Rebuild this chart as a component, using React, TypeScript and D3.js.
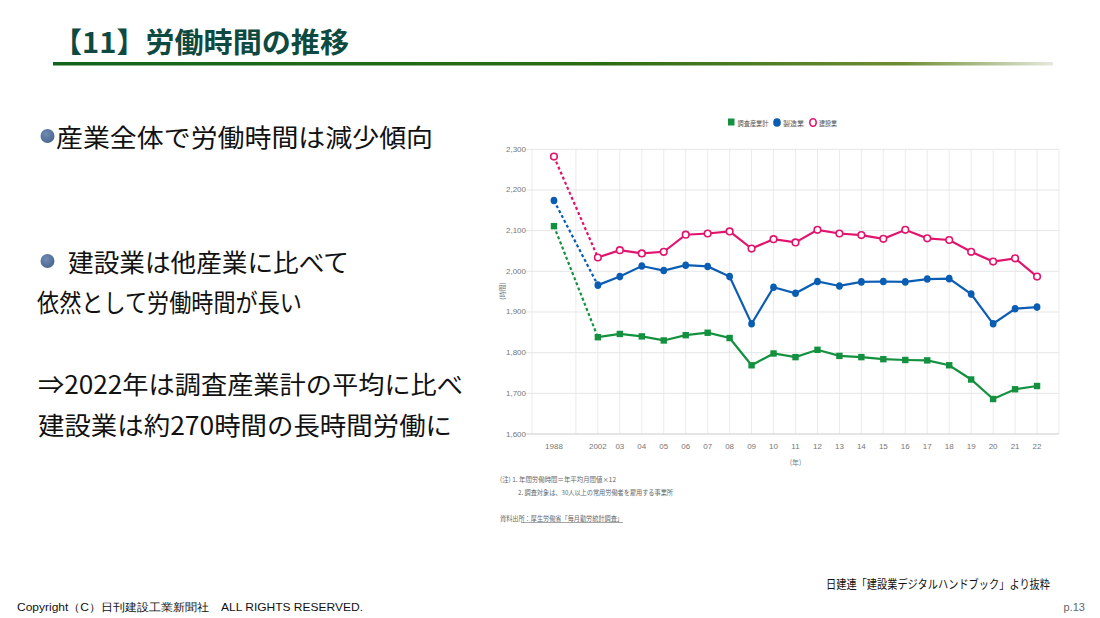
import React from "react";
import * as d3 from "d3";

const categories = ["1988", "", "2002", "03", "04", "05", "06", "07", "08", "09", "10", "11", "12", "13", "14", "15", "16", "17", "18", "19", "20", "21", "22"];
const allIndustry = [2111, null, 1838, 1846, 1840, 1830, 1843, 1849, 1836, 1769, 1798, 1789, 1807, 1792, 1789, 1784, 1782, 1781, 1769, 1734, 1686, 1710, 1718];
const manufacturing = [2174, null, 1966, 1987, 2013, 2002, 2015, 2012, 1987, 1871, 1961, 1946, 1975, 1964, 1974, 1975, 1974, 1981, 1982, 1944, 1871, 1908, 1912];
const construction = [2282, null, 2034, 2052, 2044, 2048, 2090, 2093, 2098, 2056, 2079, 2071, 2102, 2093, 2089, 2080, 2102, 2081, 2077, 2048, 2024, 2032, 1987];
const yTicks = [1600, 1700, 1800, 1900, 2000, 2100, 2200, 2300];
const seriesNames = ["調査産業計", "製造業", "建設業"];

const C_GREEN = "#14913f";
const C_BLUE = "#0a5db3";
const C_PINK = "#e2136c";

const JP = "'Noto Sans CJK JP', 'Noto Sans', sans-serif";
const NARROW = "'Liberation Sans Narrow', 'Liberation Sans', Arial, sans-serif";

export default function App() {
  const x = d3.scalePoint<string>().domain(categories).range([532, 1059]).padding(1);
  const y = d3.scaleLinear().domain([1600, 2300]).range([434, 149.3]);
  const fmt = d3.format(",");

  const solid = (vals: (number | null)[]) => {
    const pts = categories.map((c, i) => ({ c, v: vals[i] })).filter((d, i) => i >= 2 && d.v != null);
    return d3.line<{ c: string; v: number | null }>().x((d) => x(d.c) as number).y((d) => y(d.v as number))(pts) || "";
  };
  const dashed = (vals: (number | null)[]) => {
    const pts = [{ c: categories[0], v: vals[0] }, { c: categories[2], v: vals[2] }];
    return d3.line<{ c: string; v: number | null }>().x((d) => x(d.c) as number).y((d) => y(d.v as number))(pts) || "";
  };

  const series = [
    { vals: allIndustry, color: C_GREEN, kind: "square" },
    { vals: manufacturing, color: C_BLUE, kind: "dot" },
    { vals: construction, color: C_PINK, kind: "ring" },
  ];

  const marker = (kind: string, color: string, cx: number, cy: number, key: any) => {
    if (kind === "square") return <rect key={key} x={cx - 3.2} y={cy - 3.2} width={6.4} height={6.4} fill={color} />;
    if (kind === "dot") return <ellipse key={key} cx={cx} cy={cy} rx={3.4} ry={3.8} fill={color} />;
    return <circle key={key} cx={cx} cy={cy} r={3.3} fill="#fff" stroke={color} strokeWidth={1.6} />;
  };

  const vLines = [532, ...categories.slice(1).map((c) => x(c) as number), 1059];

  return (
    <div style={{ position: "absolute", left: 0, top: 0 }}>
      <svg width={1100} height={618} style={{ display: "block", background: "#fff" }}>
        <defs>
          <linearGradient id="ul" x1="0" x2="1" y1="0" y2="0">
            <stop offset="0" stopColor="#12641c" />
            <stop offset="0.55" stopColor="#2b6c12" />
            <stop offset="0.85" stopColor="#6f8d33" />
            <stop offset="1" stopColor="#e6e9dc" />
          </linearGradient>
          <radialGradient id="bul" cx="0.4" cy="0.35" r="0.7">
            <stop offset="0" stopColor="#6f8bb3" />
            <stop offset="1" stopColor="#4a6590" />
          </radialGradient>
        </defs>

        {/* Title */}
        <text x={53} y={41} fontFamily={JP} fontWeight={700} fontSize={28} fill="#0e4a40" dominantBaseline="central" textLength={296} lengthAdjust="spacingAndGlyphs">
          【11】労働時間の推移
        </text>
        <rect x={53} y={62} width={1000} height={3.5} fill="url(#ul)" />

        {/* Body text */}
        <circle cx={47.5} cy={136} r={7} fill="url(#bul)" />
        <text x={56} y={136} fontFamily={JP} fontSize={25} fill="#111" dominantBaseline="central" textLength={377} lengthAdjust="spacingAndGlyphs">
          産業全体で労働時間は減少傾向
        </text>
        <circle cx={47.5} cy={261} r={7} fill="url(#bul)" />
        <text x={68} y={261} fontFamily={JP} fontSize={25} fill="#111" dominantBaseline="central" textLength={281} lengthAdjust="spacingAndGlyphs">
          建設業は他産業に比べて
        </text>
        <text x={37} y={301} fontFamily={JP} fontSize={25} fill="#111" dominantBaseline="central" textLength={265} lengthAdjust="spacingAndGlyphs">
          依然として労働時間が長い
        </text>
        <text x={38} y={383} fontFamily={JP} fontSize={25} fill="#111" dominantBaseline="central" textLength={425} lengthAdjust="spacingAndGlyphs">
          ⇒2022年は調査産業計の平均に比べ
        </text>
        <text x={38} y={424} fontFamily={JP} fontSize={25} fill="#111" dominantBaseline="central" textLength={414} lengthAdjust="spacingAndGlyphs">
          建設業は約270時間の長時間労働に
        </text>

        {/* Legend */}
        <g fontFamily={JP} fontSize={7} fill="#555">
          <rect x={728} y={118.5} width={6.5} height={7} fill={C_GREEN} />
          <text x={737.5} y={122.5} dominantBaseline="central" textLength={31} lengthAdjust="spacingAndGlyphs">{seriesNames[0]}</text>
          <ellipse cx={777} cy={122.5} rx={3.8} ry={4.3} fill={C_BLUE} />
          <text x={783} y={122.5} dominantBaseline="central" textLength={21} lengthAdjust="spacingAndGlyphs">{seriesNames[1]}</text>
          <ellipse cx={813} cy={122.5} rx={3.2} ry={3.7} fill="#fff" stroke={C_PINK} strokeWidth={1.6} />
          <text x={819} y={122.5} dominantBaseline="central" textLength={18} lengthAdjust="spacingAndGlyphs">{seriesNames[2]}</text>
        </g>

        {/* Grid */}
        {vLines.map((vx, i) => (
          <line key={"v" + i} x1={vx} x2={vx} y1={149.3} y2={y(1600)} stroke="#ebebeb" strokeWidth={1} />
        ))}
        {yTicks.map((t) => (
          <line key={"h" + t} x1={525} x2={1059} y1={y(t)} y2={y(t)} stroke={t === 1600 ? "#dcdcdc" : "#e6e6e6"} strokeWidth={t === 1600 ? 1.5 : 1} />
        ))}
        {/* Y ticks */}
        {yTicks.map((t) => (
          <text key={"yt" + t} x={526} y={y(t)} textAnchor="end" dominantBaseline="central" fontFamily={NARROW} fontSize={8} fill="#777">
            {fmt(t)}
          </text>
        ))}
        <text transform={`translate(502,291) rotate(-90)`} textAnchor="middle" dominantBaseline="central" fontFamily={JP} fontSize={6.5} fill="#777">
          (時間)
        </text>
        {/* X ticks */}
        {categories.map((c, i) =>
          c ? (
            <text key={"xt" + i} x={x(c) as number} y={446.5} textAnchor="middle" dominantBaseline="central" fontFamily={NARROW} fontSize={8} fill="#777">
              {c}
            </text>
          ) : null
        )}
        <text x={x("11") as number} y={462} textAnchor="middle" dominantBaseline="central" fontFamily={JP} fontSize={7} fill="#777">
          (年)
        </text>

        {/* Series */}
        {series.map((s, si) => (
          <g key={"s" + si}>
            <path d={dashed(s.vals)} fill="none" stroke={s.color} strokeWidth={2.2} strokeDasharray="3,2.5" />
            <path d={solid(s.vals)} fill="none" stroke={s.color} strokeWidth={2.2} />
            {categories.map((c, i) => (s.vals[i] != null ? marker(s.kind, s.color, x(c) as number, y(s.vals[i] as number), i) : null))}
          </g>
        ))}

        {/* Notes */}
        <g fontFamily={JP} fontSize={6.6} fill="#666">
          <text x={500} y={478.5} dominantBaseline="central" textLength={116} lengthAdjust="spacingAndGlyphs">(注) 1. 年間労働時間＝年平均月間値×12</text>
          <text x={518} y={491.5} dominantBaseline="central" textLength={155} lengthAdjust="spacingAndGlyphs">2. 調査対象は、30人以上の常用労働者を雇用する事業所</text>
          <text x={500} y={518} dominantBaseline="central" textLength={123} lengthAdjust="spacingAndGlyphs">資料出所：厚生労働省「毎月勤労統計調査」</text>
          <line x1={521} x2={623} y1={522.5} y2={522.5} stroke="#666" strokeWidth={0.6} />
        </g>

        {/* Footer */}
        <text x={826} y={583} fontFamily={JP} fontSize={12} fill="#111" dominantBaseline="central" textLength={224} lengthAdjust="spacingAndGlyphs">
          日建連「建設業デジタルハンドブック」より抜粋
        </text>
        <text x={17} y={607} fontFamily="'Liberation Sans', Arial, sans-serif" fontSize={11} fill="#111" dominantBaseline="central" textLength={346} lengthAdjust="spacingAndGlyphs">
          Copyright（C）日刊建設工業新聞社　ALL RIGHTS RESERVED.
        </text>
        <text x={1085} y={607} fontFamily="'Liberation Sans', Arial, sans-serif" fontSize={11} fill="#666" textAnchor="end" dominantBaseline="central">
          p.13
        </text>
      </svg>
    </div>
  );
}
